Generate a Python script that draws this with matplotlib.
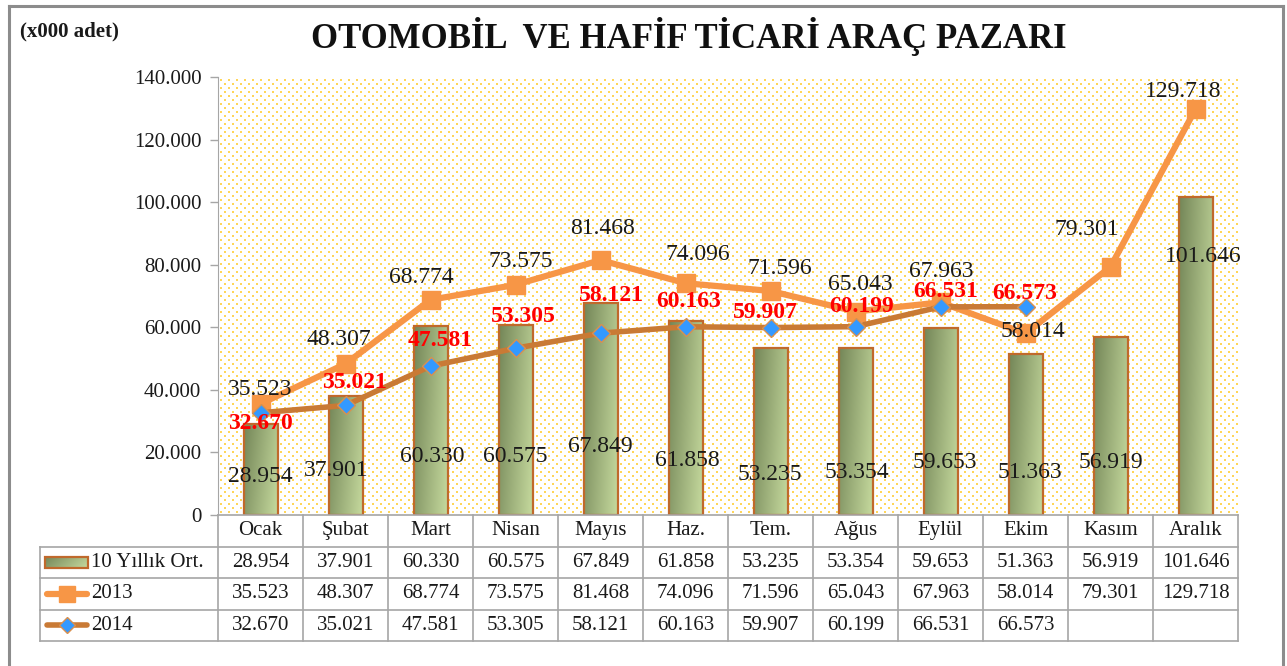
import numpy as np
import matplotlib
matplotlib.use("Agg")
import matplotlib.pyplot as plt
from matplotlib.patches import Rectangle
from matplotlib.lines import Line2D

# ---------------- data ----------------
months = ["Ocak", "Şubat", "Mart", "Nisan", "Mayıs", "Haz.", "Tem.", "Ağus",
          "Eylül", "Ekim", "Kasım", "Aralık"]
avg10 = [28.954, 37.901, 60.330, 60.575, 67.849, 61.858, 53.235, 53.354,
         59.653, 51.363, 56.919, 101.646]
y2013 = [35.523, 48.307, 68.774, 73.575, 81.468, 74.096, 71.596, 65.043,
         67.963, 58.014, 79.301, 129.718]
y2014 = [32.670, 35.021, 47.581, 53.305, 58.121, 60.163, 59.907, 60.199,
         66.531, 66.573]
series_names = ["10 Yıllık Ort.", "2013", "2014"]
yticks = [0, 20, 40, 60, 80, 100, 120, 140]

# label placement offsets (pixels) -- layout only
off_avg = [(0, 39), (-9, 44), (2, 58), (0, 58), (0, 68), (2, 54), (-1, 41),
           (1, 43), (4, 52), (4, 42), (0, 53), (8, 258)]
off_2013 = [(0, 14), (-7, 24), (-9, 22), (5, 23), (2, 32), (12, 29), (9, 23),
            (5, 27), (1, 31), (7, 2), (-24, 37), (-12, 18)]
off_2014 = [(0, -11), (9, 23), (10, 26), (8, 32), (11, 38), (3, 25), (-5, 15),
            (6, 20), (5, 15), (-1, 13)]

# ---------------- style ----------------
plt.rcParams["font.family"] = ["Liberation Serif", "DejaVu Serif"]
TXT = "#1a1a1a"
C13 = "#F79646"
C14 = "#C97A35"
BLUE = "#3399FF"
BAR_EDGE = "#C0692C"
GRID = "#A6A6A6"
FS_LBL = 17
FS_TAB = 15
dark = np.array([0x74, 0x86, 0x58]) / 255
light = np.array([0xC6, 0xDA, 0x9E]) / 255
n = 64
gx, gy = np.meshgrid(np.linspace(0, 1, n), np.linspace(0, 1, n))
t = np.clip(0.75 * gx + 0.25 * gy, 0, 1)[..., None]
grad = dark + t * (light - dark)

W, H = 1287, 666
fig = plt.figure(figsize=(W / 100, H / 100), dpi=100)
L, R, T, B = 218, 1238, 77, 515
ax = fig.add_axes([L / W, 1 - B / H, (R - L) / W, (B - T) / H])
ax.patch.set_visible(False)
x = np.arange(len(months))

# dotted background texture placed pixel-exact behind the axes
th, tw = B - T, R - L
rr, cc = np.mgrid[0:th, 0:tw]
rm, cm = rr % 8, cc % 8
dots = (((rm == 2) | (rm == 3)) & ((cm == 2) | (cm == 3))) | \
       (((rm == 6) | (rm == 7)) & ((cm == 6) | (cm == 7)))
tex = np.ones((th, tw, 3))
tex[dots] = np.array([255, 214, 90]) / 255
fig.figimage(tex, xo=L, yo=H - B, origin="upper", zorder=-1)

# bars with gradient
bars = ax.bar(x, avg10, width=0.4, facecolor="none", edgecolor=BAR_EDGE,
              lw=1.6, zorder=3)
for b in bars:
    x0, w, h = b.get_x(), b.get_width(), b.get_height()
    im = ax.imshow(grad, extent=[x0, x0 + w, 0, h], aspect="auto", zorder=2,
                   origin="upper", interpolation="bilinear")
    im.set_clip_path(b)

ax.plot(x, y2013, color=C13, lw=4.5, marker="s", ms=13, mfc=C13, mec=C13,
        zorder=4, solid_capstyle="round")
ax.plot(x[:len(y2014)], y2014, color=C14, lw=4, marker="D", ms=9.5,
        mfc=BLUE, mec="#D9904F", mew=1, zorder=5, solid_capstyle="round")

ax.set_xlim(-0.5, 11.5)
ax.set_ylim(0, 140)

for xi, v, o in zip(x, avg10, off_avg):
    ax.annotate(f"{v:.3f}", (xi, 0), xytext=o, textcoords="offset pixels",
                ha="center", va="center", fontsize=FS_LBL, color=TXT, zorder=6)
for xi, v, o in zip(x, y2013, off_2013):
    ax.annotate(f"{v:.3f}", (xi, v), xytext=o, textcoords="offset pixels",
                ha="center", va="center", fontsize=FS_LBL, color=TXT, zorder=6)
for xi, v, o in zip(x, y2014, off_2014):
    ax.annotate(f"{v:.3f}", (xi, v), xytext=o, textcoords="offset pixels",
                ha="center", va="center", fontsize=FS_LBL, color="#FF0000",
                fontweight="bold", zorder=7)

ax.set_yticks(yticks)
ax.set_yticklabels(["0" if v == 0 else f"{v:.3f}" for v in yticks],
                   fontsize=FS_TAB, color=TXT)
ax.set_xticks([])
ax.tick_params(axis="y", length=6, width=1, color=GRID, pad=6)
for s in ["top", "right", "bottom"]:
    ax.spines[s].set_visible(False)
ax.spines["left"].set_color(GRID)

# ---------------- data table ----------------
TB = 641
tax = fig.add_axes([L / W, 1 - TB / H, (R - L) / W, (TB - B) / H])
tax.set_xlim(-0.5, 11.5)
tax.set_ylim(4, 0)
tax.axis("off")
colpx = (R - L) / len(months)
xl = -0.5 - (L - 40) / colpx


def px(p):
    return -0.5 - (L - p) / colpx


def hline(y, xa, xb):
    tax.add_line(Line2D([xa, xb], [y, y], color=GRID, lw=1.2, clip_on=False))


def vline(xv, ya, yb):
    tax.add_line(Line2D([xv, xv], [ya, yb], color=GRID, lw=1.2, clip_on=False))


hline(0, -0.5, 11.5)
for r in range(1, 5):
    hline(r, xl, 11.5)
for k in range(len(months) + 1):
    vline(-0.5 + k, 0, 4)
vline(xl, 1, 4)

for i, m in enumerate(months):
    tax.text(i, 0.5, m, ha="center", va="center", fontsize=FS_TAB, color=TXT,
             clip_on=False)
rows = [avg10, y2013, y2014]
for r, vals in enumerate(rows):
    for i, v in enumerate(vals):
        tax.text(i, r + 1.5, f"{v:.3f}", ha="center", va="center",
                 fontsize=FS_TAB, color=TXT, clip_on=False)

# legend keys
kx0, kx1 = px(45), px(88)
key = Rectangle((kx0, 1.32), kx1 - kx0, 0.36, facecolor="none",
                edgecolor=BAR_EDGE, lw=1.6, clip_on=False, zorder=3)
tax.add_patch(key)
kim = tax.imshow(grad, extent=[kx0, kx1, 1.68, 1.32], aspect="auto", zorder=2,
                 origin="upper")
kim.set_clip_path(key)
tax.set_xlim(-0.5, 11.5)
tax.set_ylim(4, 0)
tax.add_line(Line2D([px(47), px(87)], [2.5, 2.5], color=C13, lw=4.5,
                    solid_capstyle="round", clip_on=False))
tax.add_line(Line2D([px(67)], [2.5], color=C13, marker="s", ms=11,
                    clip_on=False))
tax.add_line(Line2D([px(47), px(87)], [3.5, 3.5], color=C14, lw=4,
                    solid_capstyle="round", clip_on=False))
tax.add_line(Line2D([px(67)], [3.5], marker="D", ms=8, mfc=BLUE, mec="#D9904F",
                    clip_on=False))
for r, name in enumerate(series_names):
    tax.text(px(91), r + 1.5, name, ha="left", va="center", fontsize=FS_TAB,
             color=TXT, clip_on=False)

# ---------------- titles & frame ----------------
fig.text(689 / W, 1 - 37 / H, "OTOMOBİL  VE HAFİF TİCARİ ARAÇ PAZARI",
         ha="center", va="center", fontsize=25, fontweight="bold", color="#111111")
fig.text(20 / W, 1 - 31 / H, "(x000 adet)", ha="left", va="center",
         fontsize=15, fontweight="bold", color=TXT)

fc = "#8C8C8C"
fig.add_artist(Line2D([8.5 / W, 8.5 / W], [0, 1 - 5.5 / H], color=fc, lw=2.2,
                      transform=fig.transFigure))
fig.add_artist(Line2D([8.5 / W, 1283 / W], [1 - 5.5 / H, 1 - 5.5 / H], color=fc,
                      lw=2.2, transform=fig.transFigure))
fig.add_artist(Line2D([1283 / W, 1283 / W], [0, 1 - 5.5 / H], color=fc, lw=2.2,
                      transform=fig.transFigure))

fig.savefig("out.png", dpi=100, facecolor="white")
